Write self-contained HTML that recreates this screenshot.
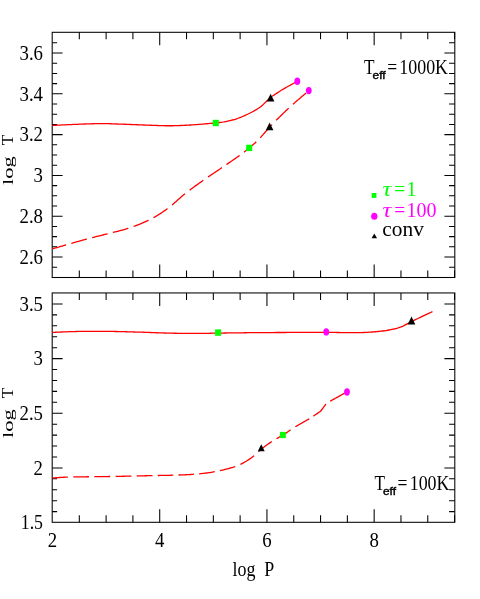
<!DOCTYPE html>
<html><head><meta charset="utf-8"><title>log T vs log P</title>
<style>html,body{margin:0;padding:0;background:#fff;}body{width:480px;height:599px;overflow:hidden;font-family:"Liberation Serif",serif;}</style>
</head><body>
<svg width="480" height="599" viewBox="0 0 480 599" style="display:block;will-change:transform;opacity:0.999">
<rect x="0" y="0" width="480" height="599" fill="#fff"/>
<g fill="none" stroke="#000" stroke-width="1.05">
<path d="M79.31 32.30v7.00M79.31 277.50v-7.00M106.11 32.30v7.00M106.11 277.50v-7.00M132.91 32.30v7.00M132.91 277.50v-7.00M159.72 32.30v13.00M159.72 277.50v-13.00M186.53 32.30v7.00M186.53 277.50v-7.00M213.33 32.30v7.00M213.33 277.50v-7.00M240.13 32.30v7.00M240.13 277.50v-7.00M266.94 32.30v13.00M266.94 277.50v-13.00M293.75 32.30v7.00M293.75 277.50v-7.00M320.55 32.30v7.00M320.55 277.50v-7.00M347.36 32.30v7.00M347.36 277.50v-7.00M374.16 32.30v13.00M374.16 277.50v-13.00M400.96 32.30v7.00M400.96 277.50v-7.00M427.77 32.30v7.00M427.77 277.50v-7.00M454.57 32.30v7.00M454.57 277.50v-7.00"/>
<path d="M79.31 292.95v7.00M79.31 522.30v-7.00M106.11 292.95v7.00M106.11 522.30v-7.00M132.91 292.95v7.00M132.91 522.30v-7.00M159.72 292.95v13.00M159.72 522.30v-13.00M186.53 292.95v7.00M186.53 522.30v-7.00M213.33 292.95v7.00M213.33 522.30v-7.00M240.13 292.95v7.00M240.13 522.30v-7.00M266.94 292.95v13.00M266.94 522.30v-13.00M293.75 292.95v7.00M293.75 522.30v-7.00M320.55 292.95v7.00M320.55 522.30v-7.00M347.36 292.95v7.00M347.36 522.30v-7.00M374.16 292.95v13.00M374.16 522.30v-13.00M400.96 292.95v7.00M400.96 522.30v-7.00M427.77 292.95v7.00M427.77 522.30v-7.00M454.57 292.95v7.00M454.57 522.30v-7.00"/>
<path d="M52.20 267.20h4.90M454.80 267.20h-5.70M52.20 257.00h10.40M454.80 257.00h-10.40M52.20 246.80h4.90M454.80 246.80h-5.70M52.20 236.60h4.90M454.80 236.60h-5.70M52.20 226.40h4.90M454.80 226.40h-5.70M52.20 216.20h10.40M454.80 216.20h-10.40M52.20 206.00h4.90M454.80 206.00h-5.70M52.20 195.80h4.90M454.80 195.80h-5.70M52.20 185.60h4.90M454.80 185.60h-5.70M52.20 175.40h10.40M454.80 175.40h-10.40M52.20 165.20h4.90M454.80 165.20h-5.70M52.20 155.00h4.90M454.80 155.00h-5.70M52.20 144.80h4.90M454.80 144.80h-5.70M52.20 134.60h10.40M454.80 134.60h-10.40M52.20 124.40h4.90M454.80 124.40h-5.70M52.20 114.20h4.90M454.80 114.20h-5.70M52.20 104.00h4.90M454.80 104.00h-5.70M52.20 93.80h10.40M454.80 93.80h-10.40M52.20 83.60h4.90M454.80 83.60h-5.70M52.20 73.40h4.90M454.80 73.40h-5.70M52.20 63.20h4.90M454.80 63.20h-5.70M52.20 53.00h10.40M454.80 53.00h-10.40M52.20 42.80h4.90M454.80 42.80h-5.70"/>
<path d="M52.20 511.62h4.90M454.80 511.62h-5.70M52.20 500.69h4.90M454.80 500.69h-5.70M52.20 489.76h4.90M454.80 489.76h-5.70M52.20 478.83h4.90M454.80 478.83h-5.70M52.20 467.90h10.40M454.80 467.90h-10.40M52.20 456.97h4.90M454.80 456.97h-5.70M52.20 446.04h4.90M454.80 446.04h-5.70M52.20 435.11h4.90M454.80 435.11h-5.70M52.20 424.18h4.90M454.80 424.18h-5.70M52.20 413.25h10.40M454.80 413.25h-10.40M52.20 402.32h4.90M454.80 402.32h-5.70M52.20 391.39h4.90M454.80 391.39h-5.70M52.20 380.46h4.90M454.80 380.46h-5.70M52.20 369.53h4.90M454.80 369.53h-5.70M52.20 358.60h10.40M454.80 358.60h-10.40M52.20 347.67h4.90M454.80 347.67h-5.70M52.20 336.74h4.90M454.80 336.74h-5.70M52.20 325.81h4.90M454.80 325.81h-5.70M52.20 314.88h4.90M454.80 314.88h-5.70M52.20 303.95h10.40M454.80 303.95h-10.40"/>
<rect x="52.2" y="32.3" width="402.6" height="245.2"/>
<rect x="52.2" y="292.95" width="402.6" height="229.34999999999997"/>
</g>
<g font-family="'Liberation Serif', serif">
<text transform="translate(43.00 59.75) scale(0.94 1.0)" text-anchor="end" font-size="20" fill="#000" >3.6</text>
<text transform="translate(43.00 100.55) scale(0.94 1.0)" text-anchor="end" font-size="20" fill="#000" >3.4</text>
<text transform="translate(43.00 141.35) scale(0.94 1.0)" text-anchor="end" font-size="20" fill="#000" >3.2</text>
<text transform="translate(43.00 182.15) scale(0.94 1.0)" text-anchor="end" font-size="20" fill="#000" >3</text>
<text transform="translate(43.00 222.95) scale(0.94 1.0)" text-anchor="end" font-size="20" fill="#000" >2.8</text>
<text transform="translate(43.00 263.75) scale(0.94 1.0)" text-anchor="end" font-size="20" fill="#000" >2.6</text>
<text transform="translate(43.00 310.70) scale(0.94 1.0)" text-anchor="end" font-size="20" fill="#000" >3.5</text>
<text transform="translate(43.00 365.35) scale(0.94 1.0)" text-anchor="end" font-size="20" fill="#000" >3</text>
<text transform="translate(43.00 420.00) scale(0.94 1.0)" text-anchor="end" font-size="20" fill="#000" >2.5</text>
<text transform="translate(43.00 474.65) scale(0.94 1.0)" text-anchor="end" font-size="20" fill="#000" >2</text>
<text transform="translate(43.00 529.30) scale(0.89 1.0)" text-anchor="end" font-size="20" fill="#000" >1.5</text>
<text transform="translate(52.50 546.80) scale(0.94 1.0)" text-anchor="middle" font-size="20" fill="#000" >2</text>
<text transform="translate(159.72 546.80) scale(0.94 1.0)" text-anchor="middle" font-size="20" fill="#000" >4</text>
<text transform="translate(266.94 546.80) scale(0.94 1.0)" text-anchor="middle" font-size="20" fill="#000" >6</text>
<text transform="translate(374.16 546.80) scale(0.94 1.0)" text-anchor="middle" font-size="20" fill="#000" >8</text>
<text transform="translate(253.40 575.60) scale(0.855 1.0)" text-anchor="middle" font-size="21" fill="#000" >log&#160;&#160;P</text>
<text transform="translate(13.25 185.05) rotate(-90) scale(1.13 0.765)" font-size="20" fill="#000">log</text><text transform="translate(13.25 145.20) rotate(-90) scale(0.87 0.82)" font-size="20" fill="#000">T</text>
<text transform="translate(13.25 438.05) rotate(-90) scale(1.13 0.765)" font-size="20" fill="#000">log</text><text transform="translate(13.25 398.20) rotate(-90) scale(0.87 0.82)" font-size="20" fill="#000">T</text>
<text transform="translate(364.00 73.50) scale(0.86 1)" font-size="20" fill="#000">T</text><text transform="translate(372.60 78.90) scale(1.08 1)" font-family="'Liberation Sans', sans-serif" stroke="#000" stroke-width="0.4" font-size="11" fill="#000">eff</text><text transform="translate(387.20 73.50) scale(0.88 1)" font-size="20" fill="#000">=</text><text transform="translate(399.30 73.50) scale(0.895 1)" font-size="20" fill="#000">1000K</text>
<text transform="translate(374.40 490.00) scale(0.86 1)" font-size="20" fill="#000">T</text><text transform="translate(383.00 495.40) scale(1.08 1)" font-family="'Liberation Sans', sans-serif" stroke="#000" stroke-width="0.4" font-size="11" fill="#000">eff</text><text transform="translate(397.60 490.00) scale(0.88 1)" font-size="20" fill="#000">=</text><text transform="translate(409.70 490.00) scale(0.895 1)" font-size="20" fill="#000">100K</text>
<text transform="translate(382.6 196.4) scale(1.22 1.03)" font-size="20" fill="#00ff00" font-style="italic">&#964;</text><text transform="translate(394.2 196.4) scale(0.97 1)" font-size="20" fill="#00ff00">=</text><text transform="translate(406.4 196.4) scale(1.0 1)" font-size="20" fill="#00ff00">1</text>
<text transform="translate(382.6 216.6) scale(1.22 1.03)" font-size="20" fill="#ff00ff" font-style="italic">&#964;</text><text transform="translate(394.2 216.6) scale(0.97 1)" font-size="20" fill="#ff00ff">=</text><text transform="translate(406.4 216.6) scale(1.0 1)" font-size="20" fill="#ff00ff">100</text>
<text transform="translate(382.3 236.4) scale(1.07 1)" font-size="20" fill="#000">conv</text>
</g>
<rect x="371.7" y="193" width="4.7" height="4.9" fill="#00ff00"/>
<ellipse cx="374.3" cy="216.2" rx="3.15" ry="3.5" fill="#ff00ff"/>
<path d="M374.3 233.6L377 238.3H371.6Z" fill="#000"/>
<g fill="none" stroke="#ff0000" stroke-width="1.3">
<path d="M52.50 125.40L53.41 125.36L54.51 125.31L55.79 125.25L57.22 125.18L58.77 125.11L60.44 125.03L62.19 124.95L64.00 124.87L65.86 124.78L67.73 124.70L69.61 124.62L71.46 124.54L73.26 124.47L75.00 124.40L76.54 124.34L78.11 124.28L79.72 124.21L81.34 124.15L82.99 124.08L84.64 124.02L86.31 123.96L87.97 123.90L89.62 123.84L91.26 123.78L92.89 123.74L94.49 123.69L96.06 123.66L97.60 123.63L99.09 123.61L100.67 123.60L102.43 123.60L104.15 123.61L105.83 123.64L107.47 123.67L109.08 123.72L110.67 123.77L112.23 123.82L113.77 123.88L115.29 123.93L116.81 123.99L118.31 124.04L119.81 124.09L121.48 124.15L123.10 124.20L124.68 124.26L126.22 124.31L127.74 124.37L129.26 124.43L130.80 124.49L132.38 124.55L134.01 124.62L135.71 124.68L137.50 124.75L138.98 124.81L140.54 124.87L142.18 124.93L143.87 125.00L145.60 125.07L147.34 125.14L149.09 125.21L150.83 125.27L152.53 125.34L154.19 125.40L155.78 125.46L157.29 125.51L158.70 125.56L160.00 125.60L162.12 125.66L163.93 125.71L165.51 125.74L166.94 125.76L168.31 125.77L169.70 125.77L171.19 125.76L172.77 125.74L174.31 125.71L175.86 125.67L177.42 125.63L179.01 125.57L180.62 125.51L182.26 125.43L183.93 125.35L185.56 125.27L187.09 125.19L188.64 125.10L190.22 125.00L191.82 124.89L193.44 124.78L195.07 124.67L196.71 124.55L198.36 124.43L200.00 124.30L201.59 124.17L203.25 124.04L204.94 123.90L206.64 123.75L208.34 123.60L210.01 123.45L211.62 123.30L213.15 123.16L214.59 123.02L216.02 122.87L217.94 122.68L219.56 122.51L221.01 122.34L222.43 122.15L223.94 121.90L225.54 121.59L227.05 121.29L228.60 120.95L230.20 120.58L231.82 120.18L233.44 119.75L235.06 119.28L236.62 118.78L238.13 118.26L239.62 117.70L241.12 117.12L242.62 116.50L244.12 115.85L245.62 115.18L247.12 114.48L248.57 113.78L250.05 113.04L251.55 112.26L253.05 111.46L254.52 110.65L255.93 109.85L257.25 109.05L258.47 108.29L259.92 107.28L261.28 106.22L262.47 105.17L263.56 104.14L264.62 103.13L265.78 102.06L267.02 100.83L268.21 99.62L269.33 98.49L270.36 97.51L271.67 96.47L272.84 95.78L274.36 94.83L275.54 94.04L276.89 93.13L278.34 92.17L279.81 91.21L281.25 90.30L282.64 89.47L284.06 88.64L285.48 87.83L286.89 87.04L288.25 86.28L289.72 85.46L291.30 84.58L292.83 83.74L294.20 82.99L295.30 82.40L297.02 81.53L297.30 81.40"/>
<path d="M52.50 332.40L53.39 332.37L54.44 332.32L55.65 332.27L56.98 332.21L58.44 332.15L60.00 332.08L61.65 332.01L63.38 331.94L65.16 331.87L66.99 331.80L68.85 331.72L70.72 331.66L72.60 331.59L74.45 331.54L76.28 331.48L78.07 331.44L79.79 331.40L81.35 331.38L82.90 331.36L84.46 331.34L86.04 331.32L87.62 331.31L89.22 331.30L90.82 331.29L92.42 331.29L94.04 331.29L95.65 331.29L97.27 331.30L98.89 331.30L100.52 331.31L102.14 331.32L103.76 331.33L105.38 331.35L106.99 331.37L108.60 331.38L110.20 331.40L111.80 331.42L113.40 331.45L115.00 331.48L116.60 331.51L118.20 331.54L119.80 331.58L121.40 331.62L123.00 331.66L124.60 331.70L126.20 331.75L127.80 331.79L129.40 331.84L131.00 331.88L132.60 331.93L134.20 331.98L135.80 332.03L137.40 332.07L139.00 332.12L140.60 332.17L142.20 332.22L143.80 332.27L145.40 332.32L147.00 332.38L148.60 332.44L150.20 332.50L151.80 332.56L153.40 332.62L155.00 332.68L156.60 332.74L158.20 332.80L159.80 332.86L161.40 332.91L163.00 332.96L164.60 333.01L166.20 333.06L167.80 333.10L169.40 333.14L171.01 333.17L172.64 333.20L174.30 333.23L175.98 333.25L177.68 333.28L179.38 333.30L181.08 333.32L182.79 333.33L184.49 333.35L186.17 333.36L187.83 333.37L189.48 333.38L191.09 333.39L192.67 333.39L194.20 333.40L195.69 333.40L197.13 333.40L198.52 333.40L199.84 333.40L201.76 333.40L203.53 333.38L205.11 333.36L206.54 333.34L207.89 333.31L209.20 333.28L210.54 333.25L211.95 333.21L213.49 333.18L215.22 333.14L217.19 333.11L218.80 333.09L220.13 333.07L221.52 333.05L222.98 333.03L224.48 333.01L226.04 332.99L227.64 332.97L229.27 332.95L230.93 332.92L232.61 332.90L234.32 332.88L236.03 332.86L237.75 332.84L239.46 332.82L241.17 332.80L242.87 332.78L244.55 332.76L246.21 332.74L247.83 332.72L249.42 332.71L251.02 332.69L252.62 332.68L254.17 332.66L255.68 332.65L257.17 332.63L258.64 332.62L260.10 332.61L261.56 332.60L263.02 332.59L264.50 332.58L265.99 332.57L267.52 332.56L269.09 332.55L270.70 332.54L272.37 332.53L274.10 332.53L275.90 332.52L277.78 332.51L279.75 332.50L281.18 332.50L282.57 332.49L284.01 332.48L285.49 332.48L287.01 332.47L288.56 332.47L290.15 332.46L291.77 332.46L293.42 332.45L295.08 332.45L296.76 332.44L298.46 332.44L300.17 332.43L301.89 332.43L303.61 332.42L305.33 332.42L307.05 332.41L308.77 332.41L310.47 332.41L312.16 332.41L313.83 332.40L315.48 332.40L317.11 332.40L318.71 332.40L320.28 332.40L321.81 332.40L323.31 332.40L324.76 332.40L326.24 332.40L328.10 332.41L329.95 332.42L331.76 332.43L333.56 332.44L335.32 332.46L337.07 332.48L338.78 332.50L340.47 332.53L342.13 332.55L343.77 332.57L345.38 332.59L346.95 332.61L348.50 332.63L350.03 332.64L351.52 332.65L352.98 332.66L354.41 332.66L355.82 332.65L357.19 332.64L358.53 332.63L359.84 332.60L361.80 332.55L363.77 332.49L365.64 332.41L367.43 332.32L369.13 332.22L370.76 332.11L372.32 332.00L373.82 331.87L375.27 331.75L376.67 331.62L378.02 331.48L379.34 331.35L380.64 331.22L382.58 331.00L384.44 330.77L386.15 330.52L387.73 330.26L389.21 329.99L390.61 329.72L391.97 329.44L393.30 329.15L395.10 328.75L396.67 328.36L398.12 327.95L399.55 327.48L401.08 326.90L402.53 326.29L403.89 325.64L405.29 324.92L406.71 324.15L408.15 323.36L409.63 322.57L411.12 321.79L412.54 321.09L413.96 320.39L415.42 319.68L416.90 318.97L418.37 318.26L419.84 317.56L421.28 316.88L422.69 316.21L424.31 315.45L425.99 314.66L427.68 313.88L429.27 313.14L430.69 312.49L431.85 311.95L432.50 311.65"/>
<path d="M52.50 248.90L53.14 248.71L53.89 248.48L54.77 248.22L55.75 247.93L56.83 247.60L58.02 247.25L59.30 246.87L60.67 246.46L62.12 246.03L63.66 245.59L65.15 245.16L66.08 244.89M71.41 243.35L72.58 243.02L73.77 242.67L74.99 242.33L76.21 241.97L77.45 241.62L78.70 241.27L79.95 240.92L81.20 240.57L82.43 240.22L83.66 239.88L84.88 239.55L86.07 239.22L86.85 239.01M92.19 237.61L93.38 237.31L94.57 237.01L95.76 236.72L96.95 236.43L98.14 236.14L99.32 235.85L100.49 235.57L101.66 235.28L102.82 235.00L103.98 234.71L105.13 234.43L106.27 234.15L107.40 233.87L107.59 233.82M112.83 232.48L114.01 232.18L115.18 231.89L116.35 231.60L117.50 231.31L118.64 231.03L119.78 230.74L120.92 230.44L122.05 230.14L123.18 229.83L124.32 229.51L125.46 229.18L126.60 228.84L127.75 228.48L128.33 228.29M133.61 226.47L134.75 226.06L135.89 225.64L137.03 225.21L138.17 224.78L139.31 224.33L140.45 223.88L141.58 223.41L142.71 222.94L143.84 222.46L144.95 221.96L146.06 221.46L147.16 220.95L148.25 220.42L148.61 220.25M153.55 217.64L154.58 217.06L155.61 216.46L156.63 215.86L157.65 215.25L158.66 214.62L159.66 213.99L160.67 213.34L161.67 212.68L162.67 212.01L163.66 211.33L164.66 210.64L165.66 209.93L166.66 209.21L167.50 208.60M172.13 204.91L173.05 204.13L173.96 203.33L174.88 202.52L175.79 201.71L176.71 200.89L177.62 200.08L178.54 199.26L179.45 198.45L180.37 197.64L181.29 196.84L182.21 196.04L183.14 195.26L184.07 194.50L185.00 193.75M189.66 190.15L190.63 189.42L191.60 188.70L192.57 187.98L193.55 187.27L194.52 186.56L195.50 185.85L196.47 185.15L197.45 184.44L198.43 183.74L199.41 183.05L200.39 182.35L201.37 181.66L202.35 180.96L203.33 180.27M207.96 177.06L208.96 176.38L209.95 175.71L210.95 175.04L211.95 174.36L212.95 173.70L213.95 173.03L214.94 172.36L215.94 171.69L216.94 171.02L217.93 170.35L218.93 169.68L219.93 169.00L220.92 168.33L221.92 167.64M226.43 164.57L227.50 163.84L228.56 163.11L229.63 162.39L230.68 161.67L231.72 160.96L232.75 160.25L233.75 159.56L234.73 158.88L235.69 158.22L236.61 157.58L237.50 156.95L238.34 156.36L239.14 155.78L239.62 155.44M243.99 152.20L244.88 151.52L245.72 150.86L246.54 150.20L247.35 149.53L248.18 148.85L249.05 148.13L249.98 147.35L250.90 146.58L251.80 145.81L252.69 145.05L253.57 144.28L254.45 143.49L255.34 142.67L256.24 141.83M260.25 137.74L261.08 136.81L261.93 135.87L262.78 134.91L263.62 133.94L264.46 132.98L265.29 132.04L266.10 131.12L266.88 130.24L267.64 129.40L268.46 128.49L269.31 127.57L270.08 126.72L270.80 125.92L271.52 125.15L272.00 124.63M276.18 120.32L276.93 119.57L277.72 118.78L278.55 117.95L279.42 117.10L280.31 116.22L281.22 115.32L282.14 114.42L283.08 113.51L284.01 112.60L284.93 111.71L285.84 110.83L286.74 109.98L287.60 109.16L288.44 108.37L288.71 108.12M293.00 104.22L293.93 103.41L294.84 102.62L295.74 101.85L296.62 101.10L297.48 100.36L298.33 99.63L299.17 98.91L300.00 98.20L301.06 97.29L302.14 96.36L303.23 95.42L304.31 94.51L305.33 93.64L305.98 93.09"/>
<path d="M52.50 478.00L53.17 477.96L53.99 477.90L54.92 477.83L55.97 477.76L57.12 477.68L58.35 477.59L59.66 477.51L61.02 477.42L62.42 477.34L63.86 477.26L65.31 477.19L66.77 477.13L67.84 477.09M73.26 476.95L74.46 476.93L75.67 476.91L76.91 476.90L78.15 476.88L79.40 476.86L80.66 476.85L81.93 476.83L83.19 476.82L84.44 476.80L85.69 476.79L86.93 476.77L88.15 476.76L88.95 476.75M94.36 476.68L95.57 476.67L96.77 476.65L97.97 476.64L99.17 476.63L100.38 476.62L101.58 476.61L102.78 476.59L103.99 476.58L105.19 476.56L106.39 476.55L107.59 476.53L108.80 476.52L110.00 476.50L110.20 476.50M115.61 476.41L116.82 476.39L118.02 476.36L119.22 476.34L120.42 476.32L121.63 476.30L122.83 476.27L124.03 476.25L125.24 476.22L126.44 476.20L127.64 476.18L128.84 476.15L130.05 476.13L131.25 476.10L131.45 476.10M136.69 475.98L137.91 475.95L139.12 475.92L140.34 475.89L141.55 475.86L142.76 475.83L143.97 475.80L145.17 475.77L146.38 475.74L147.57 475.71L148.77 475.68L149.95 475.66L151.13 475.63L152.31 475.60L152.50 475.60M157.78 475.50L158.98 475.48L160.17 475.46L161.36 475.44L162.55 475.43L163.73 475.41L164.92 475.38L166.11 475.36L167.30 475.34L168.49 475.31L169.68 475.28L170.89 475.25L172.10 475.21L173.29 475.17M178.49 475.02L179.69 474.98L180.89 474.94L182.10 474.90L183.31 474.85L184.52 474.80L185.73 474.75L186.94 474.69L188.15 474.63L189.36 474.55L190.57 474.48L191.79 474.39L193.00 474.30L193.99 474.22M199.17 473.78L200.36 473.67L201.56 473.55L202.76 473.43L203.96 473.30L205.16 473.16L206.36 473.01L207.56 472.86L208.76 472.70L209.96 472.52L211.15 472.34L212.35 472.14L213.55 471.94L214.74 471.72M219.89 470.66L221.15 470.38L222.41 470.09L223.67 469.80L224.91 469.49L226.14 469.18L227.35 468.87L228.53 468.56L229.68 468.25L230.80 467.93L231.87 467.62L232.90 467.31L233.88 467.00L235.00 466.63L235.25 466.55M240.41 464.40L241.44 463.88L242.41 463.35L243.36 462.82L244.29 462.29L245.22 461.75L246.20 461.19L247.33 460.51L248.42 459.83L249.46 459.14L250.46 458.45L251.43 457.75L252.38 457.05L253.30 456.35L254.20 455.64M258.49 451.67L259.36 450.83L260.33 449.96L261.38 449.09L262.22 448.43L263.11 447.74L264.05 447.03L265.02 446.30L266.02 445.56L267.04 444.82L268.08 444.08L269.11 443.35L270.15 442.64L271.17 441.95L271.83 441.51M276.47 438.74L277.51 438.16L278.55 437.59L279.60 437.00L280.66 436.40L281.73 435.77L282.82 435.11L283.80 434.49L284.75 433.87L285.70 433.24L286.66 432.59L287.62 431.93L288.59 431.26L289.57 430.58L290.57 429.89M295.32 426.80L296.30 426.21L297.32 425.60L298.38 424.99L299.46 424.37L300.56 423.74L301.67 423.11L302.78 422.48L303.89 421.86L304.98 421.24L306.06 420.62L307.10 420.02L308.11 419.43L309.08 418.86L309.24 418.76M313.44 416.10L314.61 415.32L315.74 414.56L316.80 413.84L317.79 413.16L318.68 412.54L319.47 412.00L320.13 411.55L320.74 410.98L321.48 410.01L322.21 409.05L322.95 408.09L323.68 407.12L324.41 406.16L325.15 405.20L325.88 404.23L326.01 404.07M330.18 401.15L331.24 400.57L332.29 399.99L333.35 399.41L334.41 398.82L335.47 398.24L336.53 397.66L337.59 397.08L338.65 396.49L339.71 395.91L340.76 395.33L341.82 394.75L342.88 394.16L343.94 393.58L344.65 393.19"/>
</g>
<rect x="212.80" y="119.80" width="6" height="6.4" fill="#00ff00"/>
<path d="M270.6 93.8L274.40 101.6H266.80Z" fill="#000"/>
<ellipse cx="297.3" cy="81.25" rx="2.9" ry="3.65" fill="#ff00ff"/>
<rect x="246.20" y="144.70" width="6" height="6.4" fill="#00ff00"/>
<path d="M269.6 122.5L273.40 130.3H265.80Z" fill="#000"/>
<ellipse cx="308.8" cy="90.6" rx="2.9" ry="3.65" fill="#ff00ff"/>
<rect x="215.10" y="329.40" width="6" height="6.4" fill="#00ff00"/>
<ellipse cx="326.25" cy="331.9" rx="2.9" ry="3.65" fill="#ff00ff"/>
<path d="M411.5 316.6L415.30 324.40000000000003H407.70Z" fill="#000"/>
<path d="M261.25 444.2L264.70 451.2H257.80Z" fill="#000"/>
<rect x="280.00" y="431.90" width="5.8" height="6.2" fill="#00ff00"/>
<ellipse cx="347" cy="392" rx="2.9" ry="3.65" fill="#ff00ff"/>
</svg>
</body></html>
